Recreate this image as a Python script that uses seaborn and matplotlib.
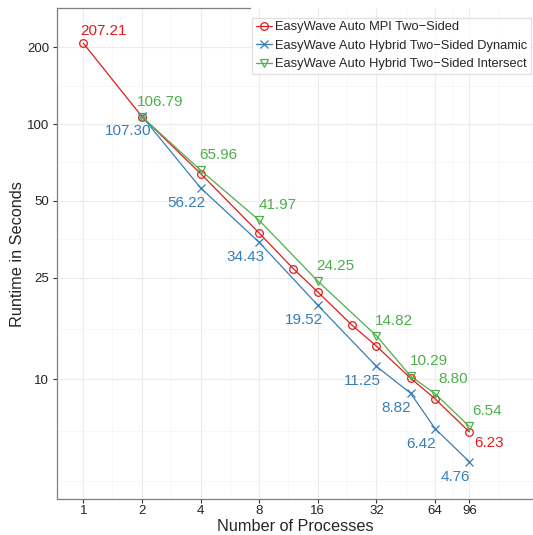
import numpy as np
import pandas as pd
import matplotlib
matplotlib.use("Agg")
import matplotlib.pyplot as plt
import seaborn as sns
from matplotlib.ticker import FixedLocator, NullFormatter

# data
mpi_procs = [1, 2, 4, 8, 12, 16, 24, 32, 48, 64, 96]
mpi_time = [207.21, 107.0, 64.0, 37.4, 27.1, 22.0, 16.3, 13.5, 10.1, 8.4, 6.23]

dyn_procs = [2, 4, 8, 16, 32, 48, 64, 96]
dyn_time = [107.30, 56.22, 34.43, 19.52, 11.25, 8.82, 6.42, 4.76]

int_procs = [2, 4, 8, 16, 32, 48, 64, 96]
int_time = [106.79, 65.96, 41.97, 24.25, 14.82, 10.29, 8.80, 6.54]

x_ticks = [1, 2, 4, 8, 16, 32, 64, 96]
y_ticks = [10, 25, 50, 100, 200]

red, blue, green = "#E41A1C", "#377EB8", "#4DAF4A"

sns.set_style("white")
plt.rcParams["font.family"] = ["Liberation Sans", "DejaVu Sans"]

fig = plt.figure(figsize=(5.33, 5.35), dpi=100)
ax = fig.add_axes([0.1064, 0.0673, 0.8936, 0.9172])

series = [
    ("EasyWave Auto MPI Two\u2212Sided", mpi_procs, mpi_time, red, "o"),
    ("EasyWave Auto Hybrid Two\u2212Sided Dynamic", dyn_procs, dyn_time, blue, "x"),
    ("EasyWave Auto Hybrid Two\u2212Sided Intersect", int_procs, int_time, green, "v"),
]
for name, xs, ys, col, mk in series:
    df = pd.DataFrame({"procs": xs, "time": ys})
    sns.lineplot(data=df, x="procs", y="time", ax=ax, color=col, marker=mk,
                 markersize=5.5, mfc="none", mec=col, markeredgewidth=0.9,
                 linewidth=0.9, label=name, legend=False, zorder=3)

# value labels
def lab(xs, ys, col, dx, dy, idx=None):
    for i, (x, y) in enumerate(zip(xs, ys)):
        if idx is not None and i not in idx:
            continue
        ax.annotate(f"{y:.2f}", (x, y), xytext=(dx, dy), textcoords="offset pixels",
                    ha="center", va="center", color=col, fontsize=11, zorder=4)

lab(mpi_procs, mpi_time, red, 20, 12, idx=[0])
lab(mpi_procs, mpi_time, red, 20, -11, idx=[len(mpi_procs) - 1])
lab(dyn_procs, dyn_time, blue, -14, -15)
lab(int_procs, int_time, green, 18, 15)

ax.set_xscale("log", base=2)
ax.set_yscale("log")
ax.set_xlim(0.730, 204)
ax.set_ylim(3.40, 284)

ax.xaxis.set_major_locator(FixedLocator(x_ticks))
ax.set_xticklabels([str(t) for t in x_ticks])
ax.yaxis.set_major_locator(FixedLocator(y_ticks))
ax.set_yticklabels([str(t) for t in y_ticks])

# minor grid lines
x_minor = [1.41, 2.83, 5.66, 11.3, 22.6, 45.3, 78.4, 136]
y_minor = [4.0, 6.3, 15.8, 35.4, 70.7, 141]
ax.xaxis.set_minor_locator(FixedLocator(x_minor))
ax.yaxis.set_minor_locator(FixedLocator(y_minor))
ax.xaxis.set_minor_formatter(NullFormatter())
ax.yaxis.set_minor_formatter(NullFormatter())

ax.grid(which="major", color="#EBEBEB", linewidth=0.8)
ax.grid(which="minor", color="#F5F5F5", linewidth=0.6)
ax.set_axisbelow(True)

ax.spines["right"].set_visible(False)
ax.spines["top"].set_bounds(0.730, 7.18)
for s in ["left", "bottom", "top"]:
    ax.spines[s].set_color("#7F7F7F")
    ax.spines[s].set_linewidth(0.9)

ax.tick_params(which="major", length=3, width=0.8, color="#333333",
               labelsize=9.5, labelcolor="#222222", bottom=True, left=True)
ax.tick_params(axis="x", which="major", pad=1.5)
ax.tick_params(axis="y", which="major", pad=2.5)
ax.tick_params(which="minor", length=0)

ax.set_xlabel("Number of Processes", fontsize=11.7, labelpad=1.5)
ax.set_ylabel("Runtime in Seconds", fontsize=11.7, labelpad=1.5)

leg = ax.legend(loc="upper right", bbox_to_anchor=(531 / 533, 1 - 17.5 / 535),
                bbox_transform=fig.transFigure, fontsize=9.3,
                frameon=True, fancybox=False, handlelength=1.25, handletextpad=0.25,
                borderpad=0.3, labelspacing=0.5, borderaxespad=0)
leg.get_frame().set_edgecolor("#D9D9D9")
leg.get_frame().set_linewidth(0.9)

fig.savefig("out.png", dpi=100)
